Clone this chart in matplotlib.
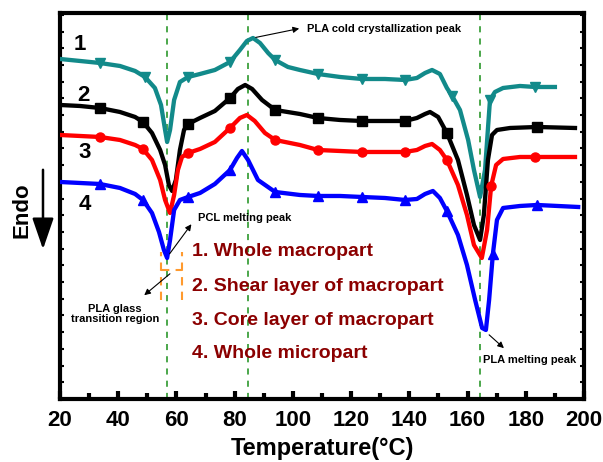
import numpy as np
import matplotlib.pyplot as plt
from matplotlib.ticker import MultipleLocator

plt.rcParams['font.family'] = ['Liberation Sans', 'DejaVu Sans']
plt.rcParams['font.weight'] = 'bold'

# DSC heating traces (heat flow in arbitrary units, shifted for clarity)
temp_1 = [20, 26.9, 33.7, 40.6, 45.8, 49.2, 52.6, 54.7, 56.1, 56.8, 57.8, 59.2, 61.2, 64.0,
          68.1, 73.2, 78.4, 81.8, 84.2, 86.3, 88.7, 91.5, 93.9, 98.3, 102.4, 108.6, 116.2,
          123.7, 131.6, 138.5, 142.6, 145.4, 147.8, 150.5, 152.9, 154.7, 157.4, 160.2, 162.2,
          164.3, 166.0, 167.7, 169.4, 172.2, 178.0, 183.2, 190.0]
heat_1 = [34.0, 33.8, 33.6, 33.3, 32.8, 32.2, 31.1, 29.4, 26.9, 25.7, 26.9, 29.9, 31.7, 32.2,
          32.5, 32.9, 33.7, 34.9, 35.8, 36.1, 35.6, 34.6, 33.9, 33.2, 32.9, 32.5, 32.2,
          32.0, 32.0, 31.9, 32.1, 32.6, 32.9, 32.5, 31.1, 30.3, 28.9, 25.9, 22.9,
          20.2, 22.9, 29.9, 30.7, 31.1, 31.3, 31.2, 31.2]
marks_1 = [33.7, 49.2, 64.0, 78.4, 93.9, 108.6, 123.7, 138.5, 154.7, 167.7, 183.2]

temp_2 = [20, 26.9, 33.7, 40.6, 45.8, 48.5, 51.6, 54.4, 56.1, 57.4, 58.5, 59.8, 61.2, 62.6,
          64.0, 68.1, 73.2, 78.4, 81.1, 83.6, 86.0, 89.4, 93.9, 102.4, 108.6, 116.2, 123.7,
          131.6, 138.5, 142.6, 145.4, 147.1, 149.9, 152.9, 156.7, 159.8, 162.2, 164.3, 165.6,
          167.0, 168.4, 170.1, 174.6, 183.9, 196.9]
heat_2 = [29.4, 29.3, 29.1, 28.7, 28.2, 27.7, 26.6, 24.9, 23.4, 21.4, 20.8, 21.9, 24.9, 26.9,
          27.5, 28.1, 28.8, 30.1, 31.0, 31.4, 31.0, 29.9, 28.9, 28.5, 28.1, 27.9, 27.8,
          27.8, 27.8, 28.1, 28.5, 28.7, 28.2, 26.6, 23.9, 20.4, 17.4, 15.9, 18.4,
          23.9, 26.4, 26.9, 27.1, 27.2, 27.1]
marks_2 = [33.7, 48.5, 64.0, 78.4, 93.9, 108.6, 123.7, 138.5, 152.9, 183.9]

temp_3 = [20, 26.9, 33.7, 40.6, 45.8, 48.5, 51.6, 54.4, 56.1, 57.8, 59.2, 60.5, 61.9, 64.0,
          68.1, 73.2, 78.4, 81.8, 84.2, 86.9, 90.4, 93.9, 102.4, 108.6, 116.2, 123.7, 131.6,
          138.5, 142.6, 145.4, 147.8, 150.5, 152.9, 156.7, 159.8, 162.2, 164.9, 166.7, 168.1,
          169.8, 172.2, 178.0, 183.2, 196.9]
heat_3 = [26.4, 26.3, 26.2, 25.9, 25.4, 25.0, 23.9, 21.9, 19.9, 18.6, 20.4, 22.9, 24.2, 24.6,
          25.0, 25.7, 27.1, 28.1, 28.4, 27.8, 26.6, 25.9, 25.4, 24.9, 24.8, 24.7, 24.7,
          24.7, 24.9, 25.3, 25.5, 24.9, 23.9, 21.4, 18.4, 15.4, 14.1, 16.9, 21.3,
          23.4, 24.0, 24.2, 24.2, 24.2]
marks_3 = [33.7, 48.5, 64.0, 78.4, 93.9, 108.6, 123.7, 138.5, 152.9, 168.1, 183.2]

temp_4 = [20, 26.9, 33.7, 40.6, 45.8, 48.5, 51.6, 54.0, 55.7, 56.8, 57.8, 59.2, 61.2, 64.0,
          68.1, 73.2, 78.4, 80.8, 82.5, 84.6, 88.0, 93.9, 102.4, 108.6, 116.2, 123.7, 131.6,
          138.5, 142.6, 145.4, 148.1, 150.5, 152.9, 156.7, 159.8, 162.6, 165.0, 166.3, 167.4,
          168.7, 170.1, 172.2, 178.0, 183.9, 198.0]
heat_4 = [21.7, 21.6, 21.5, 21.1, 20.5, 19.9, 18.6, 16.7, 14.9, 14.1, 15.9, 18.9, 19.9, 20.2,
          20.6, 21.5, 22.9, 24.1, 24.8, 23.9, 21.9, 20.7, 20.4, 20.3, 20.3, 20.2, 20.1,
          19.9, 20.0, 20.5, 20.8, 20.1, 18.8, 16.4, 13.4, 9.9, 7.1, 6.9, 9.9,
          14.5, 17.9, 19.1, 19.3, 19.4, 19.2]
marks_4 = [33.7, 48.5, 64.0, 78.4, 93.9, 108.6, 123.7, 138.5, 152.9, 168.7, 183.9]

curve_labels = ["1", "2", "3", "4"]
sample_names = ["1. Whole macropart", "2. Shear layer of macropart",
                "3. Core layer of macropart", "4. Whole micropart"]
peak_temps = [56.8, 84.5, 164.3]
x_ticks = [20, 40, 60, 80, 100, 120, 140, 160, 180, 200]

curves = [(temp_1, heat_1, marks_1, "#128a8a", "v"),
          (temp_2, heat_2, marks_2, "black", "s"),
          (temp_3, heat_3, marks_3, "#ff0000", "o"),
          (temp_4, heat_4, marks_4, "#0000ff", "^")]

fig = plt.figure(figsize=(6.03, 4.62), dpi=100)
ax = fig.add_axes([0.0995, 0.1364, 0.869, 0.8355])

for t in peak_temps:
    ax.axvline(t, color="#1a8f1a", linestyle=(0, (4, 4)), linewidth=1.1, zorder=1)

for temp, heat, marks, color, marker in curves:
    idx = [temp.index(m) for m in marks]
    ax.plot(temp, heat, color=color, linewidth=3.1, marker=marker, markersize=6.5,
            markevery=idx, solid_joinstyle="round", zorder=3)

# curve numbers
for lab, (tx, ty) in zip(curve_labels, [(26.9, 35.4), (27.9, 30.3), (28.6, 24.6), (28.6, 19.4)]):
    ax.text(tx, ty, lab, fontsize=16, fontweight="bold", ha="center", va="center")

for name, ty in zip(sample_names, [14.7, 11.2, 7.8, 4.5]):
    ax.text(65.3, ty, name, fontsize=14, fontweight="bold", color="#8b0000",
            ha="left", va="center")

arrow = dict(arrowstyle="-|>", color="black", lw=0.8, mutation_scale=9)
ax.annotate("", xy=(103.1, 37.1), xytext=(86.3, 36.1), arrowprops=arrow)
ax.text(104.8, 37.0, "PLA cold crystallization peak", fontsize=8, fontweight="bold",
        va="center")
ax.annotate("", xy=(65.7, 17.7), xytext=(57.1, 14.3), arrowprops=arrow)
ax.text(67.4, 18.1, "PCL melting peak", fontsize=8, fontweight="bold", va="center")
ax.annotate("", xy=(48.2, 10.2), xytext=(58.5, 12.7), arrowprops=arrow)
ax.text(38.9, 8.5, "PLA glass\ntransition region", fontsize=8, fontweight="bold",
        ha="center", va="center", linespacing=1.1)
ax.annotate("", xy=(173.2, 4.9), xytext=(166.7, 6.6), arrowprops=arrow)
ax.text(165.3, 3.9, "PLA melting peak", fontsize=8, fontweight="bold", va="center")

# glass transition bracket
orange = dict(color="#ff9a2e", linestyle=(0, (4, 3)), linewidth=1.5, zorder=2)
ax.plot([54.7, 54.7], [9.9, 14.7], **orange)
ax.plot([61.9, 61.9], [9.9, 14.7], **orange)
ax.plot([54.7, 61.9], [12.9, 12.9], **orange)

ax.set_xlim(20, 200)
ax.set_ylim(0, 38.6)
ax.set_xticks(x_ticks)
ax.xaxis.set_minor_locator(MultipleLocator(10))
ax.yaxis.set_minor_locator(MultipleLocator(1.67))
ax.set_yticks([])
ax.tick_params(axis="x", which="major", direction="in", length=6, width=3,
               labelsize=16, pad=8)
ax.tick_params(axis="x", which="minor", direction="in", length=4, width=3)
ax.tick_params(axis="y", which="minor", direction="in", length=3, width=1.5,
               left=True, right=True)
for lab in ax.get_xticklabels():
    lab.set_fontweight("bold")
for sp in ax.spines.values():
    sp.set_linewidth(3)

ax.set_xlabel("Temperature(°C)", fontsize=17, fontweight="bold", labelpad=4)

fig.text(0.036, 0.545, "Endo", rotation=90, fontsize=16, fontweight="bold",
         ha="center", va="center")
fig.add_artist(plt.matplotlib.patches.FancyArrowPatch(
    (0.0713, 0.6385), (0.0713, 0.4545), transform=fig.transFigure,
    arrowstyle="-|>,head_length=1.6,head_width=0.55", color="black", lw=1.8,
    mutation_scale=12))

fig.savefig("out.png", dpi=100)
